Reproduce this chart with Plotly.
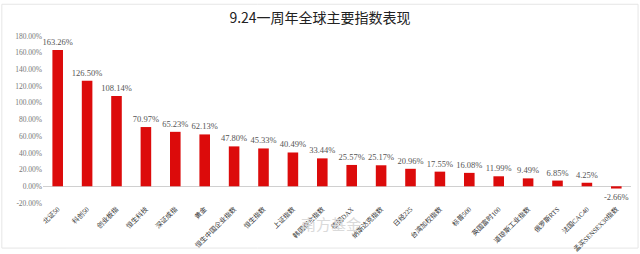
import plotly.graph_objects as go

# 9.24 一周年全球主要指数涨跌幅（%）
indices = [
    "北证50", "科创50", "创业板指", "恒生科技", "深证成指", "黄金",
    "恒生中国企业指数", "恒生指数", "上证指数", "韩国综合指数", "德国DAX",
    "纳斯达克指数", "日经225", "台湾加权指数", "标普500", "英国富时100",
    "道琼斯工业指数", "俄罗斯RTS", "法国CAC40", "孟买SENSEX30指数",
]
returns_pct = [
    163.26, 126.50, 108.14, 70.97, 65.23, 62.13,
    47.80, 45.33, 40.49, 33.44, 25.57,
    25.17, 20.96, 17.55, 16.08, 11.99,
    9.49, 6.85, 4.25, -2.66,
]
y_ticks = [-20, 0, 20, 40, 60, 80, 100, 120, 140, 160, 180]
y_tick_labels = [f"{v:.2f}%" for v in y_ticks]

serif = "Liberation Serif, Noto Sans CJK SC, serif"

fig = go.Figure(
    go.Bar(
        x=indices,
        y=returns_pct,
        marker=dict(color="#DC0B0B", line=dict(width=0)),
        texttemplate="%{y:.2f}%",
        textposition="outside",
        textfont=dict(family=serif, size=8.5, color="#555555"),
        cliponaxis=False,
    )
)

fig.update_layout(
    width=640,
    height=254,
    margin=dict(l=43, r=9, t=36, b=51),
    paper_bgcolor="white",
    plot_bgcolor="white",
    bargap=0.64,
    showlegend=False,
    title=dict(
        text="9.24一周年全球主要指数表现",
        x=0.5,
        xanchor="center",
        y=0.93,
        yanchor="middle",
        font=dict(family="Noto Sans CJK SC, serif", size=14, color="#222222"),
    ),
    xaxis=dict(
        tickangle=-45,
        tickfont=dict(family=serif, size=6.8, color="#333333"),
        showgrid=False,
        showline=False,
        ticks="",
        automargin=False,
    ),
    yaxis=dict(
        range=[-20, 180],
        tickvals=y_ticks,
        ticktext=y_tick_labels,
        tickfont=dict(family=serif, size=7.5, color="#777777"),
        showgrid=False,
        zeroline=True,
        zerolinecolor="#D0D0D0",
        zerolinewidth=1,
        showline=False,
        automargin=False,
    ),
    uniformtext=dict(minsize=7, mode="show"),
)

# 水印
fig.add_annotation(
    text="南方基金",
    xref="paper", yref="paper",
    x=0.49, y=-0.2,
    showarrow=False,
    font=dict(family="Noto Sans CJK SC, sans-serif", size=15, color="#DADADA"),
)

# 外框
fig.add_shape(
    type="rect",
    xref="paper", yref="paper",
    x0=-0.07, x1=1.012, y0=-0.27, y1=1.19,
    line=dict(color="#E6E6E6", width=1),
    fillcolor="rgba(0,0,0,0)",
    layer="below",
)

fig.write_html("out.html")
